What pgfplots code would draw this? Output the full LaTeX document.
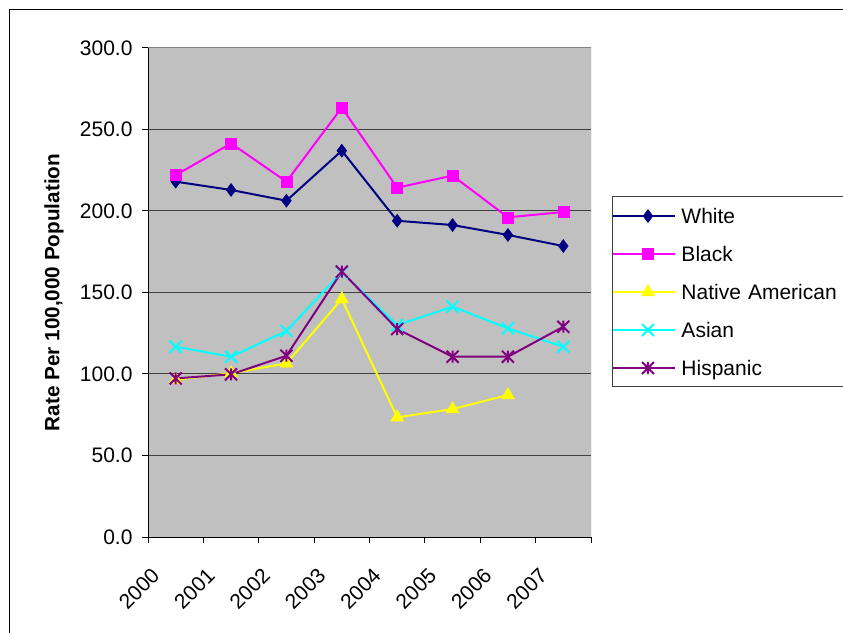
\documentclass[border=0pt]{standalone}
\usepackage{fontspec}
\setmainfont{Liberation Sans}
\usepackage{pgfplots}
\pgfplotsset{compat=1.18}

\definecolor{cWhite}{HTML}{000080}
\definecolor{cBlack}{HTML}{FF00FF}
\definecolor{cNative}{HTML}{FFFF00}
\definecolor{cAsian}{HTML}{00FFFF}
\definecolor{cHispanic}{HTML}{800080}
\definecolor{plotbg}{HTML}{C0C0C0}
\definecolor{gridc}{HTML}{404040}
\definecolor{borderc}{HTML}{808080}

\newcommand{\chartfont}{\fontsize{21}{25}\selectfont}

% star mark: a cross with a vertical stroke through it
\pgfdeclareplotmark{xstar}{%
  \pgfpathmoveto{\pgfqpoint{-\pgfplotmarksize}{-\pgfplotmarksize}}%
  \pgfpathlineto{\pgfqpoint{\pgfplotmarksize}{\pgfplotmarksize}}%
  \pgfpathmoveto{\pgfqpoint{-\pgfplotmarksize}{\pgfplotmarksize}}%
  \pgfpathlineto{\pgfqpoint{\pgfplotmarksize}{-\pgfplotmarksize}}%
  \pgfpathmoveto{\pgfqpoint{0pt}{-\pgfplotmarksize}}%
  \pgfpathlineto{\pgfqpoint{0pt}{\pgfplotmarksize}}%
  \pgfusepathqstroke
}
% plain cross mark
\pgfdeclareplotmark{xcross}{%
  \pgfpathmoveto{\pgfqpoint{-\pgfplotmarksize}{-\pgfplotmarksize}}%
  \pgfpathlineto{\pgfqpoint{\pgfplotmarksize}{\pgfplotmarksize}}%
  \pgfpathmoveto{\pgfqpoint{-\pgfplotmarksize}{\pgfplotmarksize}}%
  \pgfpathlineto{\pgfqpoint{\pgfplotmarksize}{-\pgfplotmarksize}}%
  \pgfusepathqstroke
}

\begin{document}
\begin{tikzpicture}[x=1pt,y=1pt]
\useasboundingbox (0,0) rectangle (843,632);
% chart area frame
\draw[line width=1pt, black] (9.5,-20) -- (9.5,622.5) -- (870,622.5);

\begin{axis}[
  at={(148pt,95pt)}, anchor=south west,
  scale only axis, width=443pt, height=489pt,
  xmin=-0.5, xmax=7.5, ymin=0, ymax=300,
  axis background/.style={fill=plotbg},
  axis x line*=bottom, axis y line*=left,
  axis line style={-, black, line width=1pt},
  tick align=outside,
  major tick length=6pt,
  tick style={black, line width=1pt},
  xtick={-0.5,0.5,1.5,2.5,3.5,4.5,5.5,6.5,7.5},
  xticklabels={},
  extra x ticks={0,1,2,3,4,5,6,7},
  extra x tick labels={2000,2001,2002,2003,2004,2005,2006,2007},
  extra x tick style={major tick length=0pt, grid=none,
    xticklabel style={anchor=east, inner sep=0pt, xshift=-20pt, yshift=-35pt, rotate=45}},
  ytick={0,50,100,150,200,250,300},
  ymajorgrids,
  major grid style={draw=gridc, line width=1pt},
  yticklabel style={xshift=-6pt, /pgf/number format/.cd, fixed, fixed zerofill, precision=1, assume math mode=true},
  tick label style={font=\chartfont},
  ylabel={Rate Per 100,000 Population},
  ylabel style={at={(axis description cs:-0.2122,0.5)}, anchor=center, font=\fontsize{20.7}{24}\selectfont\bfseries},
  legend style={
    at={(axis description cs:1.0474,0.6973)}, anchor=north west,
    draw=black!75, line width=1pt, fill=white,
    inner xsep=0pt, inner ysep=0pt, row sep=0pt, column sep=0pt,
    font=\chartfont,
    nodes={inner xsep=5pt, inner ysep=0pt, text height=27pt, text depth=11pt, text width=170pt, align=left, anchor=base west},
  },
  legend cell align=left,
  legend image code/.code={
    \path (-7pt,7.5pt) -- (0pt,7.5pt);
    \draw[mark repeat=2, mark phase=2, line width=2pt, #1] plot coordinates {(0pt,7.5pt) (27.5pt,7.5pt) (55pt,7.5pt)};
  },
]
\draw[borderc, line width=1pt] (rel axis cs:0,1) -- (rel axis cs:1,1) -- (rel axis cs:1,0);

\addplot[cWhite, line width=2pt, mark=diamond*, mark size=6.5pt, mark options={solid, fill=cWhite, line width=0.5pt}]
  coordinates {(0,218.0) (1,212.9) (2,206.3) (3,237.0) (4,194.0) (5,191.4) (6,185.3) (7,178.5)};
\addlegendentry{White}

\addplot[cBlack, line width=2pt, mark=square*, mark size=5.5pt, mark options={solid, fill=cBlack, line width=0.5pt}]
  coordinates {(0,222.0) (1,241.5) (2,218.0) (3,263.4) (4,214.3) (5,221.7) (6,196.1) (7,199.4)};
\addlegendentry{Black}

\addplot[cNative, line width=2pt, mark=triangle*, mark size=7.5pt, mark options={solid, fill=cNative, line width=0.5pt}]
  coordinates {(0,96.5) (1,100.5) (2,106.5) (3,146.0) (4,73.4) (5,78.5) (6,87.1)};
\addlegendentry{Native American}

\addplot[cAsian, line width=2pt, mark=xcross, mark size=6pt, mark options={solid, line width=2pt}]
  coordinates {(0,116.7) (1,110.6) (2,126.4) (3,162.4) (4,130.0) (5,141.3) (6,128.0) (7,116.7)};
\addlegendentry{Asian}

\addplot[cHispanic, line width=2pt, mark=xstar, mark size=6pt, mark options={solid, line width=2pt}]
  coordinates {(0,97.3) (1,99.8) (2,111.2) (3,162.8) (4,127.6) (5,110.6) (6,110.6) (7,129.0)};
\addlegendentry{Hispanic}
\end{axis}
\end{tikzpicture}
\end{document}
